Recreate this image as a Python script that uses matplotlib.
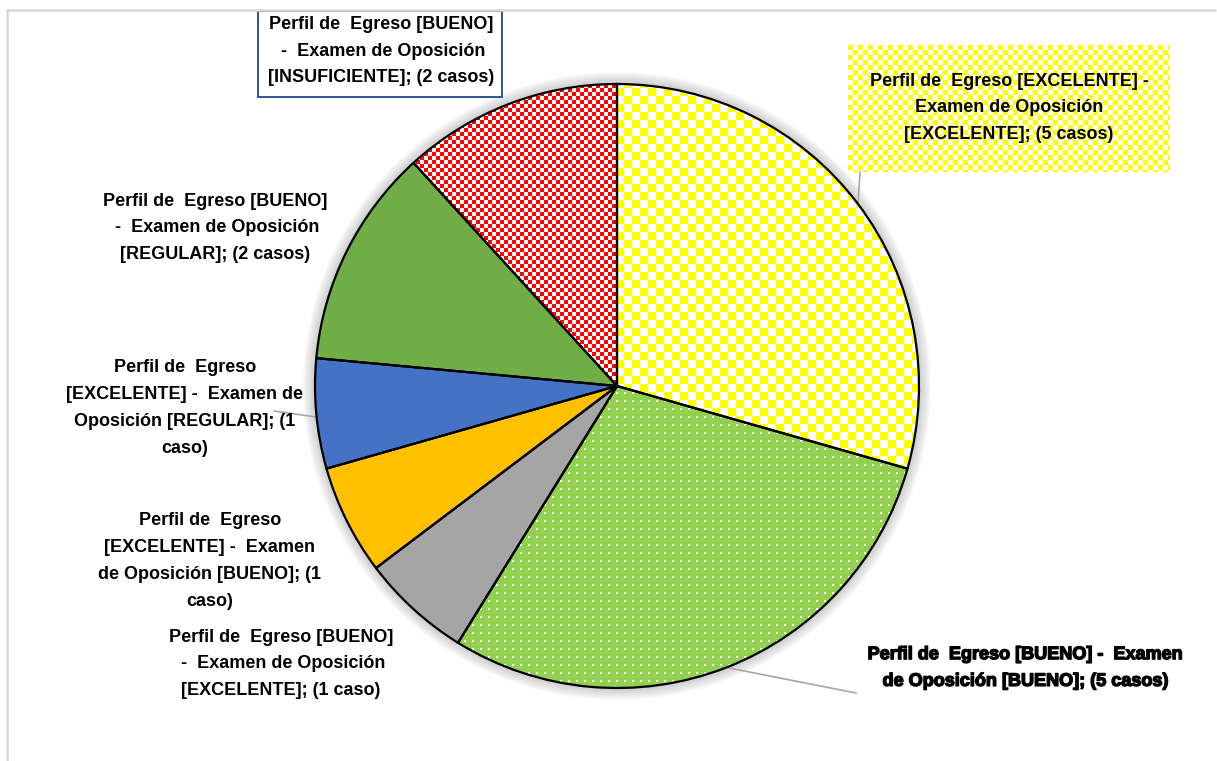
import numpy as np
import matplotlib.pyplot as plt
import matplotlib.colors as mcolors
import matplotlib.patheffects as pe
from matplotlib.patches import Circle, Rectangle, Wedge

plt.rcParams['font.family'] = ['Liberation Sans Narrow', 'Liberation Sans', 'DejaVu Sans']

# datos: perfil de egreso vs examen de oposicion
etiquetas = [
    "Perfil de  Egreso [EXCELENTE] -\nExamen de Oposición\n[EXCELENTE]; (5 casos)",
    "Perfil de  Egreso [BUENO] -  Examen\nde Oposición [BUENO]; (5 casos)",
    "Perfil de  Egreso [BUENO]\n -  Examen de Oposición\n[EXCELENTE]; (1 caso)",
    "Perfil de  Egreso\n[EXCELENTE] -  Examen\nde Oposición [BUENO]; (1\ncaso)",
    "Perfil de  Egreso\n[EXCELENTE] -  Examen de\nOposición [REGULAR]; (1\ncaso)",
    "Perfil de  Egreso [BUENO]\n -  Examen de Oposición\n[REGULAR]; (2 casos)",
    "Perfil de  Egreso [BUENO]\n -  Examen de Oposición\n[INSUFICIENTE]; (2 casos)",
]
casos = [5, 5, 1, 1, 1, 2, 2]
colores = ['#FFFF00', '#92D050', '#A5A5A5', '#FFC000', '#4472C4', '#70AD47', '#FF0000']
texturas = ['cuadros8', 'puntos', None, None, None, None, 'cuadros4']

W, H = 1217, 761
centro = (617, H - 386)
radio = 302

yy, xx = np.mgrid[0:H, 0:W]


def textura(color, tipo):
    rgb = np.array(mcolors.to_rgb(color))
    if tipo.startswith('cuadros'):
        n = int(tipo[7:])
        img = np.ones((H, W, 3))
        img[((xx // n + yy // n) % 2) == 0] = rgb
    else:
        img = np.tile(rgb, (H, W, 1))
        img[(xx % 8 < 2) & (yy % 8 < 2)] = 1.0
    return img


fig = plt.figure(figsize=(W / 100, H / 100), dpi=100)
ax = fig.add_axes([0, 0, 1, 1])

# sombra suave alrededor del pastel
for k in range(12):
    ax.add_patch(Circle(centro, radio + 12 - k, fc='#808080', ec='none', alpha=0.035, zorder=0))

wedges, _ = ax.pie(casos, colors=colores, startangle=90, counterclock=False,
                   center=centro, radius=radio,
                   wedgeprops=dict(edgecolor='none', linewidth=0))

for w, c, t in zip(wedges, colores, texturas):
    w.set_zorder(1)
    if t:
        im = ax.imshow(textura(c, t), extent=(0, W, 0, H), origin='upper', zorder=1.5,
                       interpolation='nearest')
        im.set_clip_path(w)
    ax.add_patch(Wedge(w.center, w.r, w.theta1, w.theta2, fill=False,
                       ec='black', lw=1.6, zorder=3))

# caja con cuadros del primer rotulo
bx0, bx1, by0, by1 = 848, 1170, 45, 172
sub = np.ones((by1 - by0, bx1 - bx0, 3))
yb, xb = np.mgrid[0:by1 - by0, 0:bx1 - bx0]
sub[((xb // 5 + yb // 5) % 2) == 0] = mcolors.to_rgb('#FFFF00')
ax.imshow(sub, extent=(bx0, bx1, H - by1, H - by0), origin='upper', zorder=2,
          interpolation='nearest')

# caja del rotulo de insuficiente
ax.add_patch(Rectangle((258, H - 97), 244, 86, fill=False, ec='#2F5597', lw=1.4, zorder=4))

# lineas guia
guia = dict(color='#A6A6A6', lw=1.2, zorder=2.5)
ax.plot([860, 858], [H - 172, H - 204], **guia)
ax.plot([729, 856], [H - 668, H - 693], **guia)
ax.plot([274, 316], [H - 411, H - 417], **guia)

posiciones = [(1009, 108), (1025, 668), (281, 664), (210, 561), (185, 408), (215, 228), (381, 51)]
for i, (txt, (px, py)) in enumerate(zip(etiquetas, posiciones)):
    efectos = [pe.withStroke(linewidth=1.0, foreground='black')] if i == 1 else None
    ax.text(px, H - py, txt, ha='center', va='center', fontsize=13, fontweight='bold',
            linespacing=1.75, color='black', zorder=5, path_effects=efectos)

# borde del area del grafico (solo izquierda y arriba)
ax.plot([7, 7, W - 1], [-5, H - 10, H - 10], color='#D9D9D9', lw=1.8, zorder=6,
        solid_capstyle='butt')

ax.set_xlim(0, W)
ax.set_ylim(0, H)
ax.set_aspect('equal')
ax.axis('off')
fig.savefig('out.png', dpi=100)
